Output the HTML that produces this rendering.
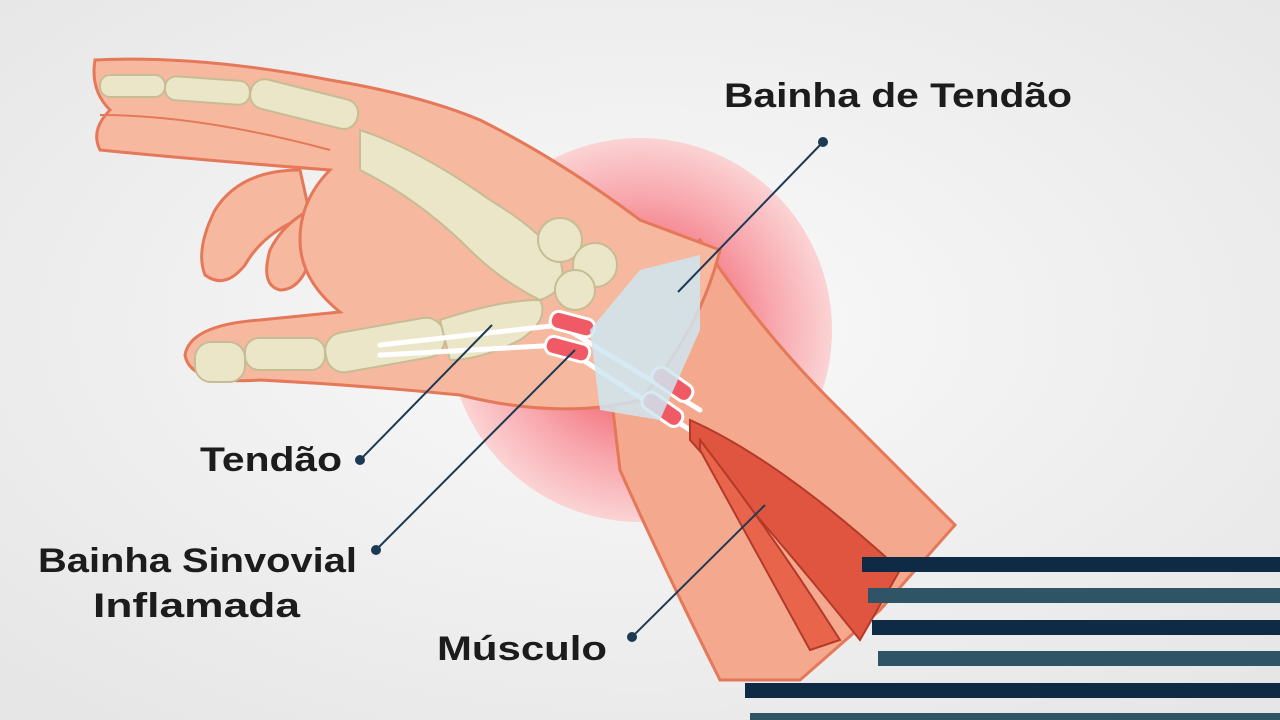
<!DOCTYPE html>
<html><head><meta charset="utf-8"><style>
html,body{margin:0;padding:0;width:1280px;height:720px;overflow:hidden;background:#efefef}
svg{display:block}
text{font-family:"Liberation Sans",sans-serif;font-weight:bold;fill:#1c1c1c}
</style></head><body>
<svg width="1280" height="720" viewBox="0 0 1280 720">
<defs>
<radialGradient id="bg" cx="0.5" cy="0.45" r="0.7"><stop offset="0" stop-color="#fafafa"/><stop offset="1" stop-color="#e6e6e6"/></radialGradient>
<radialGradient id="glow" cx="0.5" cy="0.5" r="0.5"><stop offset="0" stop-color="#f26a78"/><stop offset="0.45" stop-color="#f47d88"/><stop offset="0.7" stop-color="#f8a8ae"/><stop offset="1" stop-color="#fbd3d4"/></radialGradient>
</defs>
<rect width="1280" height="720" fill="url(#bg)"/>
<circle cx="640" cy="330" r="192" fill="url(#glow)"/>
<!-- forearm -->
<path d="M600 300 L700 240 Q760 330 830 400 L955 525 L880 610 L800 680 L720 680 Q660 560 620 470 Z" fill="#f4a98e" stroke="#e47858" stroke-width="3"/>
<!-- curled fingers -->
<g fill="#f7b8a0" stroke="#e47858" stroke-width="3">
<path d="M300 170 Q240 170 215 210 Q195 250 205 275 Q225 290 245 265 Q265 230 310 215 Z"/>
<path d="M340 200 Q290 210 270 250 Q260 285 280 290 Q300 290 310 260 Q325 240 360 235 Z"/>
</g>
<!-- hand -->
<path d="M95 60 Q200 55 330 80 Q420 95 480 120 Q560 160 640 220 L720 250 Q700 330 640 400 Q560 420 460 395 Q360 385 260 380 Q190 385 185 355 Q190 325 260 320 L340 312 Q300 280 300 240 Q300 200 330 170 Q200 160 100 150 Q90 130 110 110 Q90 90 95 60 Z" fill="#f7b8a0" stroke="#e47858" stroke-width="3"/>
<path d="M100 115 Q200 115 330 150" stroke="#e47858" stroke-width="2" fill="none"/>
<!-- bones -->
<g fill="#ece6c9" stroke="#c7bd94" stroke-width="2">
<rect x="100" y="75" width="65" height="22" rx="10"/>
<rect x="165" y="78" width="85" height="24" rx="11" transform="rotate(4 200 90)"/>
<rect x="250" y="88" width="110" height="30" rx="14" transform="rotate(14 300 100)"/>
<path d="M360 130 Q420 150 490 200 Q540 230 560 260 Q570 290 540 300 Q500 280 470 250 Q420 200 360 170 Z"/>
<circle cx="560" cy="240" r="22"/><circle cx="595" cy="265" r="22"/><circle cx="575" cy="290" r="20"/>
<rect x="195" y="342" width="50" height="40" rx="16"/>
<rect x="245" y="338" width="80" height="32" rx="14"/>
<rect x="325" y="325" width="120" height="40" rx="18" transform="rotate(-10 385 345)"/>
<path d="M440 320 Q500 300 540 300 Q550 320 520 340 Q480 360 450 360 Z"/>
</g>
<!-- tendons & sheath -->
<g stroke="#fff" stroke-width="5" fill="none" stroke-linecap="round">
<path d="M380 345 Q470 335 560 325 L700 410"/><path d="M380 355 Q470 350 560 345 L690 430"/>
</g>
<g fill="#f05a64" stroke="#fff" stroke-width="3">
<rect x="550" y="315" width="45" height="18" rx="8" transform="rotate(15 572 324)"/>
<rect x="545" y="340" width="45" height="18" rx="8" transform="rotate(15 567 349)"/>
<rect x="650" y="375" width="45" height="18" rx="8" transform="rotate(35 672 384)"/>
<rect x="640" y="400" width="45" height="18" rx="8" transform="rotate(35 662 409)"/>
</g>
<path d="M640 270 L700 255 L700 330 L660 420 L600 410 L590 330 Z" fill="#cfe6f1" opacity="0.85"/>
<!-- muscle -->
<path d="M690 420 Q780 460 900 570 L860 640 Q780 540 690 440 Z" fill="#e0553f" stroke="#b33a28" stroke-width="2"/>
<path d="M700 440 Q770 530 840 640 L810 650 Q750 540 700 450 Z" fill="#e8654b" stroke="#b33a28" stroke-width="2"/>
<!-- stripes -->
<g>
<rect x="862" y="557" width="418" height="15" fill="#0e2a45"/>
<rect x="868" y="588" width="412" height="15" fill="#2f5466"/>
<rect x="872" y="620" width="408" height="15" fill="#0e2a45"/>
<rect x="878" y="651" width="402" height="15" fill="#2f5466"/>
<rect x="745" y="683" width="535" height="15" fill="#0e2a45"/>
<rect x="750" y="713" width="530" height="10" fill="#2f5466"/>
</g>
<!-- leaders -->
<g stroke="#1d3a55" stroke-width="2" fill="#1d3a55">
<line x1="823" y1="142" x2="678" y2="292"/><circle cx="823" cy="142" r="4"/>
<line x1="360" y1="460" x2="492" y2="325"/><circle cx="360" cy="460" r="4"/>
<line x1="376" y1="550" x2="575" y2="350"/><circle cx="376" cy="550" r="4"/>
<line x1="632" y1="637" x2="765" y2="505"/><circle cx="632" cy="637" r="4"/>
</g>
<text x="724" y="107" font-size="34" textLength="348" lengthAdjust="spacingAndGlyphs">Bainha de Tendão</text>
<text x="200" y="471" font-size="34" textLength="142" lengthAdjust="spacingAndGlyphs">Tendão</text>
<text x="38" y="572" font-size="34" textLength="319" lengthAdjust="spacingAndGlyphs">Bainha Sinvovial</text>
<text x="93" y="617" font-size="34" textLength="207" lengthAdjust="spacingAndGlyphs">Inflamada</text>
<text x="437" y="660" font-size="34" textLength="170" lengthAdjust="spacingAndGlyphs">Músculo</text>
</svg>
</body></html>
